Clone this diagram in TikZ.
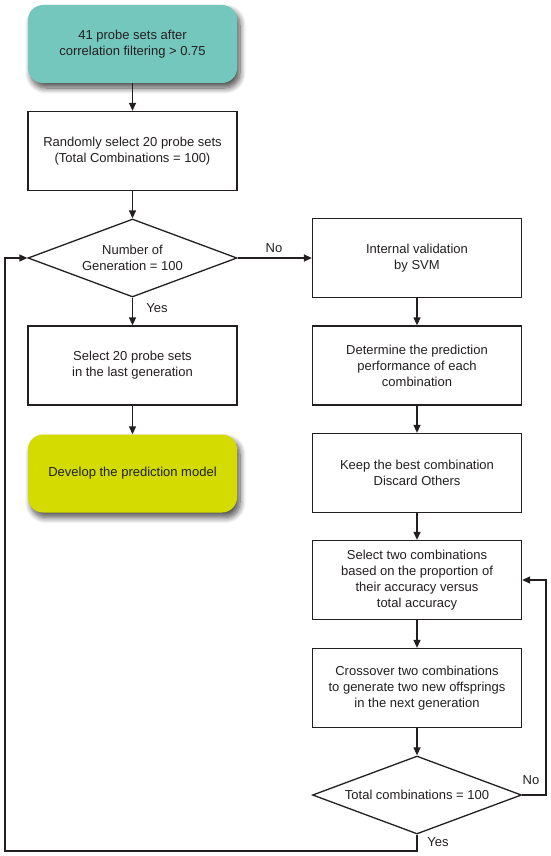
\documentclass[tikz,border=0pt]{standalone}
\usepackage{fontspec}
\setmainfont{Liberation Sans}
\usetikzlibrary{shapes.geometric,arrows.meta,shadows.blur}
\definecolor{tealbox}{RGB}{116,199,189}
\definecolor{yelbox}{RGB}{211,219,0}
\definecolor{linec}{RGB}{35,31,32}
\begin{document}
\begin{tikzpicture}[x=1pt,y=-1pt,
  every node/.style={font=\fontsize{13pt}{16pt}\selectfont, text=linec},
  procbox/.style={draw=linec, line width=1.3pt, fill=white, minimum width=209pt, minimum height=79pt, align=center, inner sep=2pt},
  roundbox/.style={rounded corners=15pt, minimum width=209pt, minimum height=78pt, align=center,
     blur shadow={shadow xshift=3pt, shadow yshift=-5pt, shadow blur steps=10, shadow blur radius=6pt, shadow opacity=70}},
  decbox/.style={draw=linec, line width=1.3pt, fill=white, diamond, aspect=2.68, minimum width=209pt, minimum height=78pt, inner sep=0pt, align=center},
  arr/.style={draw=linec, line width=1.3pt, -{Triangle[length=8pt,width=7pt]}},
  lbl/.style={font=\fontsize{13pt}{16pt}\selectfont}]
\useasboundingbox (0,0) rectangle (550,856);
\node[roundbox, fill=tealbox] (top) at (132.5,44) {41 probe sets after\\correlation filtering > 0.75};
\node[procbox] (rand) at (132.5,151) {Randomly select 20 probe sets\\(Total Combinations = 100)};
\node[decbox] (gen) at (132.5,258) {Number of\\Generation = 100};
\node[procbox] (sel) at (132.5,365.5) {Select 20 probe sets\\in the last generation};
\node[roundbox, fill=yelbox] (dev) at (132.5,473.5) {Develop the prediction model};
\node[procbox] (svm) at (417,258) {Internal validation\\by SVM};
\node[procbox] (det) at (417,365.5) {Determine the prediction\\performance of each\\combination};
\node[procbox] (keep) at (417,473) {Keep the best combination\\Discard Others};
\node[procbox] (two) at (417,580) {Select two combinations\\based on the proportion of\\their accuracy versus\\total accuracy};
\node[procbox] (cross) at (417,688) {Crossover two combinations\\to generate two new offsprings\\in the next generation};
\node[decbox] (tot) at (417,795) {Total combinations = 100};
\coordinate (lb) at (5,851);
\coordinate (rb) at (546,795);
\draw[arr] (top) -- (rand);
\draw[arr] (rand) -- (gen);
\draw[arr] (gen) -- (sel);
\draw[arr] (sel) -- (dev);
\draw[arr] (gen.east) -- (svm.west);
\draw[arr] (svm) -- (det);
\draw[arr] (det) -- (keep);
\draw[arr] (keep) -- (two);
\draw[arr] (two) -- (cross);
\draw[arr] (cross) -- (tot);
\draw[arr] (tot.east) -- (rb) |- (two.east);
\draw[arr] (tot.south) |- (lb) |- (gen.west);
\node[lbl] (no1) at (274,248) {No};
\node[lbl] (yes1) at (157,308) {Yes};
\node[lbl] (no2) at (531,780) {No};
\node[lbl] (yes2) at (438,842) {Yes};
\end{tikzpicture}
\end{document}
